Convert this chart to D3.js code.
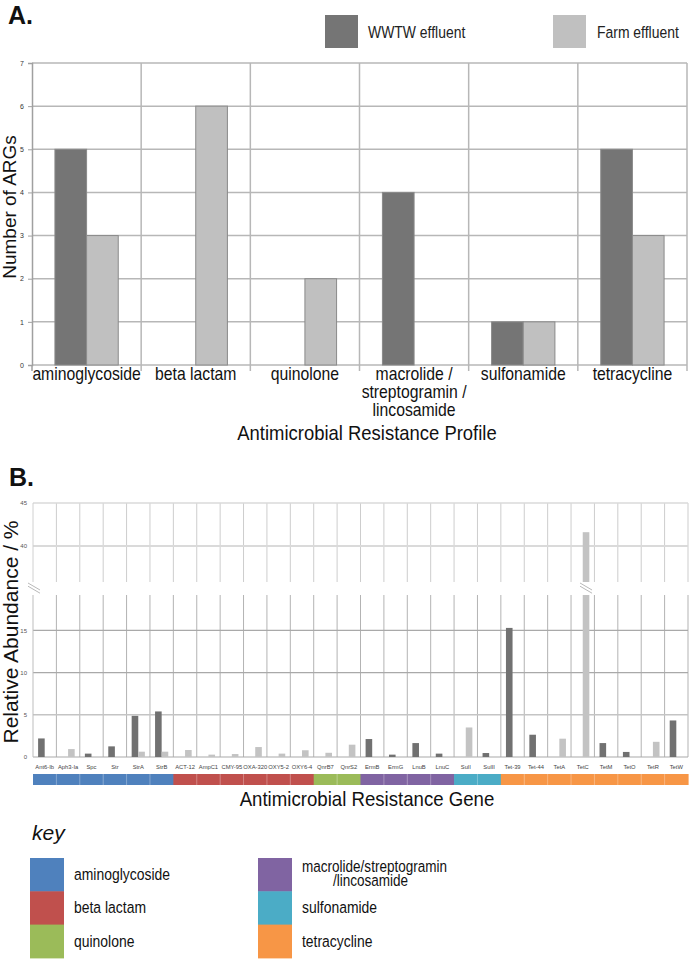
<!DOCTYPE html>
<html><head><meta charset="utf-8">
<script src="https://cdn.jsdelivr.net/npm/d3@7"></script>
<style>body{margin:0;background:#fff;} svg{display:block;}</style>
</head><body><svg id="c" width="691" height="960"></svg>
<script>
// ---------- data ----------
const resistanceClasses = ["aminoglycoside","beta lactam","quinolone","macrolide / streptogramin / lincosamide","sulfonamide","tetracycline"];
const classLabelLines = [["aminoglycoside"],["beta lactam"],["quinolone"],["macrolide /","streptogramin /","lincosamide"],["sulfonamide"],["tetracycline"]];
const wwtwCounts = [5,0,0,4,1,5];
const farmCounts = [3,6,2,0,1,3];
const countTicks = [0,1,2,3,4,5,6,7];
const seriesNames = ["WWTW effluent","Farm effluent"];
const seriesColors = ["#757575","#c0c0c0"];

const genes = ["Ant6-Ib","Aph3-Ia","Spc","Str","StrA","StrB","ACT-12","AmpC1","CMY-95","OXA-320","OXY5-2","OXY6-4","QnrB7","QnrS2","ErmB","ErmG","LnuB","LnuC","SulI","SulII","Tet-39","Tet-44","TetA","TetC","TetM","TetO","TetR","TetW"];
const geneClass = [0,0,0,0,0,0,1,1,1,1,1,1,2,2,3,3,3,3,4,4,5,5,5,5,5,5,5,5];
const wwtwAbundance = [2.2,0,0.4,1.26,4.88,5.4,0,0,0,0,0,0,0,0,2.13,0.28,1.65,0.4,0,0.47,15.3,2.64,0,0,1.65,0.6,0,4.33];
const farmAbundance = [0,0.94,0,0,0.63,0.63,0.83,0.28,0.35,1.18,0.4,0.8,0.5,1.46,0,0,0,0,3.5,0,0,0,2.17,41.6,0,0,1.8,0];
const lowerTicks = [0,5,10,15];
const upperTicks = [40,45];

const keyLabels = [["aminoglycoside"],["beta lactam"],["quinolone"],["macrolide/streptogramin","/lincosamide"],["sulfonamide"],["tetracycline"]];
const classColors = ["#4f81bd","#c0504d","#9bbb59","#8064a2","#4bacc6","#f79646"];

// ---------- drawing ----------
const SANS = "'Liberation Sans',Arial,Helvetica,sans-serif";
const svg = d3.select("#c");
// condensed text helper (horizontal squeeze of Liberation Sans); multiple lines become tspans
function ntext(parent, x, y, lines, size, anchor, sx, lineH, indents){
  sx = sx || 0.82;
  const arr = Array.isArray(lines) ? lines : [lines];
  const t = parent.append("text")
    .attr("transform",`translate(${x},${y}) scale(${sx},1)`)
    .attr("text-anchor",anchor||"start").attr("font-family",SANS)
    .attr("font-size",size).attr("fill","#111");
  arr.forEach((ln,j)=>{
    t.append("tspan").attr("x",((indents&&indents[j])||0)/sx).attr("y",j*(lineH||0)).text(ln);
  });
  return t;
}

// ===== Panel A =====
svg.append("text").attr("x",8).attr("y",24).attr("font-family",SANS).attr("font-weight","bold")
  .attr("font-size",25).attr("fill","#111").text("A.");

const legX = [325,553], legTX = [368,597];
seriesNames.forEach((s,i)=>{
  svg.append("rect").attr("x",legX[i]).attr("y",15).attr("width",33).attr("height",33).attr("fill",seriesColors[i]);
  ntext(svg, legTX[i], 38, s, 17, "start").attr("fill","#222");
});

const xA = d3.scaleBand().domain(resistanceClasses).range([32,687]);
const yA = d3.scaleLinear().domain([0,7]).range([365,63]);
const gA = svg.append("g");
gA.selectAll("line.h").data(countTicks).join("line")
  .attr("x1",32).attr("x2",687).attr("y1",d=>yA(d)).attr("y2",d=>yA(d))
  .attr("stroke","#b7b7b7").attr("stroke-width",1.5);
const bounds = resistanceClasses.slice(1).map(c=>xA(c)).concat([687]);
gA.selectAll("line.v").data(bounds).join("line")
  .attr("x1",d=>d).attr("x2",d=>d).attr("y1",yA(7)).attr("y2",yA(0)+6)
  .attr("stroke","#b7b7b7").attr("stroke-width",1.5);
const axA = svg.append("g").attr("transform","translate(32,0)")
  .call(d3.axisLeft(yA).tickValues(countTicks).tickSize(4).tickFormat(d3.format("d")));
axA.select(".domain").attr("stroke","#a0a0a0").attr("stroke-width",1.5);
axA.selectAll(".tick line").attr("stroke","#a0a0a0");
axA.selectAll(".tick text").attr("font-family",SANS).attr("font-size",7).attr("fill","#333").attr("x",-8);
gA.append("line").attr("x1",32).attr("x2",32).attr("y1",yA(0)).attr("y2",yA(0)+6).attr("stroke","#a0a0a0").attr("stroke-width",1.5);

const bwA = xA.bandwidth(), barWA = bwA*0.29;
[wwtwCounts, farmCounts].forEach((vals,si)=>{
  gA.selectAll("rect.s"+si).data(resistanceClasses).join("rect")
    .attr("x",c=>xA(c)+bwA/2-(si===0?barWA:0))
    .attr("y",(c,i)=>yA(vals[i]))
    .attr("width",barWA)
    .attr("height",(c,i)=>yA(0)-yA(vals[i]))
    .attr("fill",seriesColors[si])
    .attr("stroke",(c,i)=>vals[i]>0?"#8a8a8a":"none").attr("stroke-width",1);
});
resistanceClasses.forEach((c,i)=>{
  ntext(svg, xA(c)+bwA/2, 380, classLabelLines[i], 17.5, "middle", 0.9, 18);
});
ntext(svg, 367, 440, "Antimicrobial Resistance Profile", 20.5, "middle", 0.9);
svg.append("text").attr("transform","translate(16,207) rotate(-90)").attr("text-anchor","middle")
  .attr("font-family",SANS).attr("font-size",19).attr("fill","#111").text("Number of ARGs");

// ===== Panel B =====
svg.append("text").attr("x",9).attr("y",486).attr("font-family",SANS).attr("font-weight","bold")
  .attr("font-size",25).attr("fill","#111").text("B.");

const xB = d3.scaleBand().domain(genes).range([33,688]);
const lowTop = 595, lowBot = 757, upTop = 503, upBot = 582;
const yLow = d3.scaleLinear().domain([0,19.2]).range([lowBot,lowTop]);
const yHigh = d3.scaleLinear().domain([35.8,45]).range([upBot,upTop]);
const gB = svg.append("g");
const bwB = xB.bandwidth();
const gBounds = genes.slice(1).map(g=>xB(g)).concat([688]);
gB.selectAll("line.vl").data(gBounds).join("line")
  .attr("x1",d=>d).attr("x2",d=>d).attr("y1",lowTop).attr("y2",lowBot)
  .attr("stroke","#b3b3b3").attr("stroke-width",1);
gB.selectAll("line.vu").data(gBounds).join("line")
  .attr("x1",d=>d).attr("x2",d=>d).attr("y1",upTop).attr("y2",upBot)
  .attr("stroke","#cdcdcd").attr("stroke-width",1);
gB.selectAll("line.hl").data(lowerTicks).join("line")
  .attr("x1",33).attr("x2",688).attr("y1",d=>yLow(d)).attr("y2",d=>yLow(d))
  .attr("stroke",d=>d===5?"#c4c4c4":"#a9a9a9").attr("stroke-width",d=>d===5?1.6:1.2);
gB.selectAll("line.hu").data(upperTicks).join("line")
  .attr("x1",33).attr("x2",688).attr("y1",d=>yHigh(d)).attr("y2",d=>yHigh(d))
  .attr("stroke","#dadada").attr("stroke-width",d=>d===40?2:1.5);
gB.append("line").attr("x1",33).attr("x2",33).attr("y1",lowTop).attr("y2",lowBot).attr("stroke","#bdbdbd");
gB.append("line").attr("x1",33).attr("x2",33).attr("y1",upTop).attr("y2",upBot).attr("stroke","#d0d0d0");
const axL = svg.append("g").attr("transform","translate(33,0)")
  .call(d3.axisLeft(yLow).tickValues(lowerTicks).tickSize(0));
const axU = svg.append("g").attr("transform","translate(33,0)")
  .call(d3.axisLeft(yHigh).tickValues(upperTicks).tickSize(0));
[axL,axU].forEach(a=>{
  a.select(".domain").remove();
  a.selectAll(".tick text").attr("font-family",SANS).attr("font-size",6).attr("fill","#555").attr("x",-6);
});

const barWB = 6.6;
[wwtwAbundance, farmAbundance].forEach((vals,si)=>{
  genes.forEach((g,i)=>{
    const v = vals[i]; if(!(v>0)) return;
    const bx = xB(g)+bwB/2-(si===0?barWB:0);
    const col = si===0?"#717171":"#c3c3c3";
    if(v <= yLow.domain()[1]){
      gB.append("rect").attr("x",bx).attr("width",barWB).attr("y",yLow(v)).attr("height",lowBot-yLow(v)).attr("fill",col);
    } else {
      gB.append("rect").attr("x",bx).attr("width",barWB).attr("y",lowTop).attr("height",lowBot-lowTop).attr("fill",col);
      gB.append("rect").attr("x",bx).attr("width",barWB).attr("y",yHigh(v)).attr("height",upBot-yHigh(v)).attr("fill",col);
      drawBreak(bx+barWB/2);
    }
  });
});
function drawBreak(xc){
  [0,3.2].forEach(o=>{
    gB.append("line").attr("x1",xc-6).attr("y1",583+o).attr("x2",xc+6).attr("y2",590+o)
      .attr("stroke","#b0b0b0").attr("stroke-width",0.9);
  });
}
drawBreak(34);

gB.selectAll("text.gene").data(genes).join("text")
  .attr("x",g=>xB(g)+bwB/2).attr("y",769).attr("text-anchor","middle")
  .attr("font-family",SANS).attr("font-size",5.8).attr("fill","#444").text(g=>g);
gB.selectAll("rect.band").data(genes).join("rect")
  .attr("x",g=>xB(g)).attr("width",bwB+0.6).attr("y",774).attr("height",11)
  .attr("fill",(g,i)=>classColors[geneClass[i]]);
gB.selectAll("line.sep").data(genes.slice(1).filter((g,i)=>geneClass[i+1]===geneClass[i])).join("line")
  .attr("x1",g=>xB(g)).attr("x2",g=>xB(g)).attr("y1",774).attr("y2",785)
  .attr("stroke","#fff").attr("stroke-opacity",0.3).attr("stroke-width",1);

ntext(svg, 367, 806, "Antimicrobial Resistance Gene", 20.7, "middle", 0.9);
svg.append("text").attr("transform","translate(18,632) rotate(-90)").attr("text-anchor","middle")
  .attr("font-family",SANS).attr("font-size",21).attr("fill","#111").text("Relative Abundance / %");

// ===== Key =====
svg.append("text").attr("x",32).attr("y",840).attr("font-family",SANS).attr("font-style","italic")
  .attr("font-size",21).attr("fill","#111").text("key");
const rowH = 33.3;
classColors.forEach((col,i)=>{
  const colIdx = i<3?0:1, row = i%3;
  const sx = colIdx===0?30:258, tx = colIdx===0?74:302;
  const sy = 858 + row*rowH;
  svg.append("rect").attr("x",sx).attr("y",sy).attr("width",34).attr("height",rowH+0.5).attr("fill",col);
  const lines = keyLabels[i];
  if(lines.length===1){
    ntext(svg, tx, sy+rowH/2+5.5, lines[0], 17, "start");
  } else {
    ntext(svg, tx, sy+14, lines, 16.5, "start", 0.82, 13.5, [0,31]);
  }
});
</script></body></html>
